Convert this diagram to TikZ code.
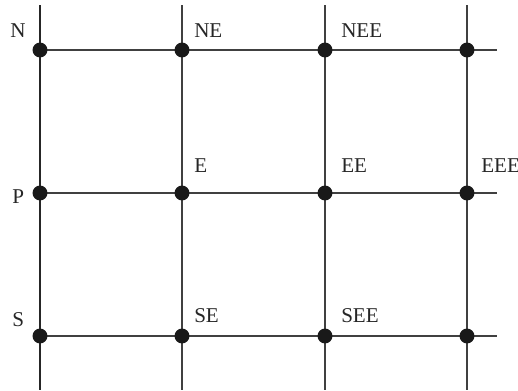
\documentclass[tikz,border=0pt]{standalone}
\usepackage{fontspec}
\setmainfont{Liberation Serif}
\usetikzlibrary{backgrounds}
\begin{document}
\begin{tikzpicture}[x=0.75pt,y=-0.75pt,
  gridline/.style={draw=black!75,line width=0.8pt},
  thickline/.style={draw=black!85,line width=1.2pt},
  gpoint/.style={circle,fill=black!90,inner sep=0pt,minimum size=11.2pt},
  lab/.style={anchor=base west,inner sep=0pt,font=\fontsize{15.8}{18}\selectfont,text=black!85}]
\useasboundingbox (0,0) rectangle (518,390);
% points
\node[gpoint] (p11) at (40,50) {};
\node[gpoint] (p12) at (182,50) {};
\node[gpoint] (p13) at (325,50) {};
\node[gpoint] (p14) at (467,50) {};
\node[gpoint] (p21) at (40,193) {};
\node[gpoint] (p22) at (182,193) {};
\node[gpoint] (p23) at (325,193) {};
\node[gpoint] (p24) at (467,193) {};
\node[gpoint] (p31) at (40,336) {};
\node[gpoint] (p32) at (182,336) {};
\node[gpoint] (p33) at (325,336) {};
\node[gpoint] (p34) at (467,336) {};
% free ends
\coordinate (t1) at (40,5);   \coordinate (b1) at (40,390);
\coordinate (t2) at (182,5);  \coordinate (b2) at (182,390);
\coordinate (t3) at (325,5);  \coordinate (b3) at (325,390);
\coordinate (t4) at (467,5);  \coordinate (b4) at (467,390);
\coordinate (r1) at (497,50);
\coordinate (r2) at (497,193);
\coordinate (r3) at (497,336);
\begin{scope}[on background layer]
\draw[thickline] (t1) -- (b1);
\draw[gridline] (t2) -- (b2);
\draw[gridline] (t3) -- (b3);
\draw[gridline] (t4) -- (b4);
\draw[gridline] (p11.center) -- (r1);
\draw[gridline] (p21.center) -- (r2);
\draw[gridline] (p31.center) -- (r3);
\end{scope}
% labels
\node[lab] (N) at (10,37) {N};
\node[lab] (NE) at (194,37) {NE};
\node[lab] (NEE) at (341,37) {NEE};
\node[lab] (E) at (194,172) {E};
\node[lab] (EE) at (341,172) {EE};
\node[lab] (EEE) at (481,172) {EEE};
\node[lab] (P) at (12,203) {P};
\node[lab] (S) at (12,326) {S};
\node[lab] (SE) at (194,322) {SE};
\node[lab] (SEE) at (341,322) {SEE};
\end{tikzpicture}
\end{document}
